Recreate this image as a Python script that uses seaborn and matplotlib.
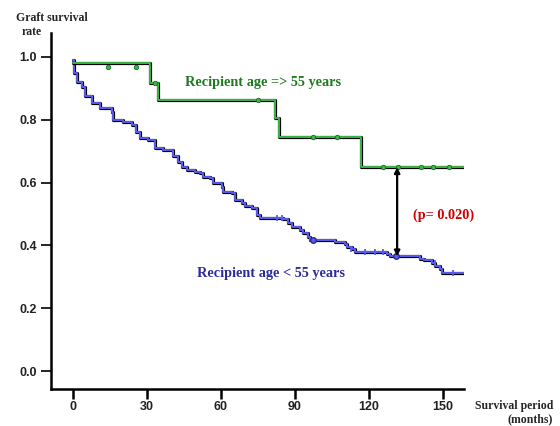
import matplotlib
matplotlib.use("Agg")
import matplotlib.pyplot as plt
import pandas as pd
import seaborn as sns

# survival curve, recipient age < 55 (step corners: month, survival)
young_t = [0, 0.4, 1.6, 3.6, 5.0, 7.7, 11.1, 15.8, 16.4, 20.5, 23.9, 25.5, 27.3, 30.6,
           33.4, 36.7, 40.8, 42.5, 44.2, 46.2, 49.5, 51.6, 52.9, 55.7, 57.0, 60.4,
           61.0, 64.4, 65.8, 68.5, 69.8, 72.5, 74.6, 75.9, 85.4, 87.4, 88.8, 92.1,
           93.5, 95.5, 96.2, 106.3, 110.4, 111.1, 113.1, 114.4, 127.3, 128.5,
           140.8, 142.2, 145.6, 147.0, 149.0, 149.7, 159.0]
young_s = [0.99, 0.95, 0.92, 0.905, 0.875, 0.853, 0.836, 0.826, 0.80, 0.794, 0.783, 0.76,
           0.741, 0.736, 0.709, 0.704, 0.683, 0.665, 0.651, 0.640, 0.635, 0.630, 0.619,
           0.614, 0.598, 0.587, 0.571, 0.566, 0.545, 0.534, 0.524, 0.519, 0.497, 0.486,
           0.484, 0.470, 0.459, 0.449, 0.438, 0.427, 0.416, 0.412, 0.405, 0.396, 0.390,
           0.380, 0.372, 0.365, 0.357, 0.352, 0.345, 0.335, 0.325, 0.311, 0.311]
young_cens_t = [83.0, 85.0, 113.0, 118.5, 122.6, 125.8, 146.8, 154.0]
young_cens_s = [0.486, 0.486, 0.390, 0.380, 0.380, 0.380, 0.345, 0.311]
young_dot_t = [97.3, 131.0]
young_dot_s = [0.416, 0.365]

# survival curve, recipient age >= 55
old_t = [0, 31.3, 34.6, 82.1, 83.7, 116.9, 159.0]
old_s = [0.98, 0.917, 0.863, 0.805, 0.744, 0.649, 0.649]
old_cens_t = [14.3, 25.7, 33.5, 75.2, 97.5, 107.3, 125.8, 131.9, 141.0, 146.0, 152.6]
old_cens_s = [0.968, 0.968, 0.917, 0.863, 0.744, 0.744, 0.649, 0.649, 0.649, 0.649, 0.649]

x_ticks = [0, 30, 60, 90, 120, 150]
y_ticks = [0.0, 0.2, 0.4, 0.6, 0.8, 1.0]
y_ticklabels = ["0.0", "0.2", "0.4", "0.6", "0.8", "1.0"]
p_text = "(p= 0.020)"
GREEN = "#3cb44b"
BLUE = "#5a5af0"

sns.set_style("ticks")
plt.rcParams["font.family"] = ["Liberation Sans", "DejaVu Sans"]
plt.rcParams["font.weight"] = "bold"

fig = plt.figure(figsize=(5.6, 4.26), dpi=100)
ax = fig.add_axes([51 / 560, 1 - 389 / 426, (464 - 51) / 560, (389 - 33) / 426])

young = pd.DataFrame({"month": young_t, "surv": young_s})
old = pd.DataFrame({"month": old_t, "surv": old_s})

# dark edge under each coloured trace
for df, col in [(young, BLUE), (old, GREEN)]:
    sns.lineplot(data=df, x="month", y="surv", ax=ax, color="black", lw=2.3,
                 drawstyle="steps-post", estimator=None, sort=False)
    sns.lineplot(data=df, x="month", y="surv", ax=ax, color=col, lw=1.4,
                 drawstyle="steps-post", estimator=None, sort=False)

ax.plot(young_cens_t, young_cens_s, ls="none", marker="|", ms=5, mew=1.3, color=BLUE)
ax.plot(young_dot_t, young_dot_s, ls="none", marker="o", ms=4, color=BLUE,
        mec="#2a2a90")
ax.plot(old_cens_t, old_cens_s, ls="none", marker="o", ms=3.2, color=GREEN,
        mec="#1f6a1f", mew=0.6)

ax.annotate("", xy=(131.5, 0.365), xytext=(131.5, 0.649),
            arrowprops=dict(arrowstyle="<|-|>", color="black", lw=1.6,
                            mutation_scale=8, shrinkA=0, shrinkB=0))

serif = ["Liberation Serif", "DejaVu Serif"]
ax.text(45.5, 0.917, "Recipient age => 55 years", color="#1f7a1f", family=serif,
        fontsize=10.3, va="center", ha="left")
ax.text(50.4, 0.312, "Recipient age < 55 years", color="#2b2b9a", family=serif,
        fontsize=10.3, va="center", ha="left")
ax.text(138, 0.497, p_text, color="#d00000", family=serif,
        fontsize=10.3, va="center", ha="left")

ax.set_xlim(-8.8, 158.6)
ax.set_ylim(-0.057, 1.076)
ax.set_xticks(x_ticks)
ax.set_yticks(y_ticks, labels=y_ticklabels)
ax.set(xlabel="", ylabel="")
sns.despine(ax=ax)
ax.spines["left"].set_linewidth(1.8)
ax.spines["bottom"].set_linewidth(1.8)
ax.spines["left"].set_color("black")
ax.spines["bottom"].set_color("black")
ax.tick_params(axis="y", left=True, direction="out", length=7, width=1.2,
               color="black", labelsize=9, labelcolor="#222222", pad=3)
ax.tick_params(axis="x", bottom=True, direction="out", length=7, width=1.8,
               color="black", labelsize=9, labelcolor="#222222", pad=2)

fig.text(52 / 560, 1 - 18 / 426, "Graft survival", family=serif,
         fontsize=8.5, ha="center", va="center")
fig.text(32 / 560, 1 - 32 / 426, "rate", family=serif,
         fontsize=8.5, ha="center", va="center")
fig.text(553 / 560, 1 - 406 / 426, "Survival period", family=serif,
         fontsize=8.5, ha="right", va="center")
fig.text(553 / 560, 1 - 419 / 426, "(months)", family=serif,
         fontsize=8.5, ha="right", va="center")

fig.savefig("out.png", dpi=100)
